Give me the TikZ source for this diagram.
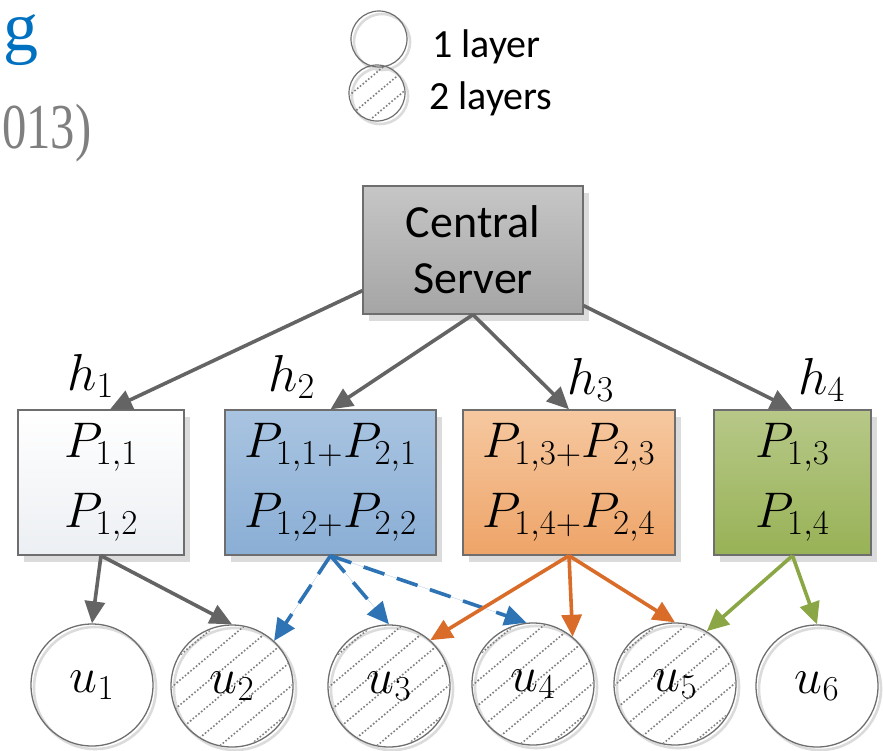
\RequirePackage{fix-cm}
\documentclass[tikz,border=0pt]{standalone}
\usepackage{fontspec}
\setsansfont{Carlito}
\newfontfamily\titlefont{Liberation Serif}
\usetikzlibrary{arrows.meta,calc,backgrounds,shadows}

\definecolor{linegray}{HTML}{646464}
\definecolor{framegray}{HTML}{6E6E6E}
\definecolor{linkblue}{HTML}{2E74B5}
\definecolor{linkorange}{HTML}{DA6C2A}
\definecolor{linkgreen}{HTML}{8BA644}
\definecolor{titleblue}{HTML}{0070C0}
\definecolor{titlegray}{HTML}{7F7F7F}
\definecolor{srvtop}{HTML}{C6C6C6}
\definecolor{srvbot}{HTML}{A5A5A5}
\definecolor{whitebot}{HTML}{ECEFF3}
\definecolor{bluetop}{HTML}{A9C4E1}
\definecolor{bluebot}{HTML}{8AAED5}
\definecolor{orangetop}{HTML}{F6C8A0}
\definecolor{orangebot}{HTML}{EEA468}
\definecolor{greentop}{HTML}{B7C888}
\definecolor{greenbot}{HTML}{98B256}

% dotted diagonal hatching inside a circular node: name, radius, spacing, count
\newcommand\hatchdisc[4]{%
  \begin{scope}
    \clip (#1.center) circle[radius=#2pt];
    \foreach \k in {-#4,...,#4}{
      \draw[hatchline]
        ($(#1.center)+({\k*#3*0.643-1.5*#2*0.766},{\k*#3*0.766+1.5*#2*0.643})$) --
        ($(#1.center)+({\k*#3*0.643+1.5*#2*0.766},{\k*#3*0.766-1.5*#2*0.643})$);
    }
  \end{scope}}

% soft ring below a circular node
\newcommand\ringshadow[2]{%
  \draw[black!14, line width=2.6pt] ([shift={(3pt,-3pt)}]#1.center) circle[radius=#2pt];}

\begin{document}
\begin{tikzpicture}[x=1pt,y=-1pt,
  hatchline/.style={draw=black!50, line width=2.3pt, line cap=round,
    dash pattern=on 0pt off 3.6pt},
  box/.style={draw=framegray, line width=1.3pt, inner sep=0pt,
    minimum height=145pt, align=center,
    font=\fontsize{50}{70}\selectfont,
    drop shadow={shadow xshift=6pt, shadow yshift=-7pt, fill=black!14, opacity=1}},
  user/.style={circle, draw=framegray, line width=1.3pt, inner sep=0pt,
    minimum size=122pt, font=\fontsize{50}{60}\selectfont},
  legendcirc/.style={circle, draw=framegray, line width=1.2pt, inner sep=0pt,
    minimum size=56pt},
  hlabel/.style={anchor=base west, inner sep=0pt, font=\fontsize{52}{60}\selectfont},
  legendtext/.style={anchor=base west, inner sep=0pt,
    font=\sffamily\fontsize{40}{48}\selectfont},
  tip/.style={-{Triangle[length=22pt,width=20pt]}},
  grayarrow/.style={tip, draw=linegray, fill=linegray, line width=3.6pt},
  bluearrow/.style={tip, draw=linkblue, fill=linkblue, line width=3.6pt,
    dash pattern=on 22pt off 13pt},
  orangearrow/.style={tip, draw=linkorange, fill=linkorange, line width=3.6pt},
  greenarrow/.style={tip, draw=linkgreen, fill=linkgreen, line width=3.6pt}
]
\useasboundingbox (0,0) rectangle (883,750);

% pieces of the heading at the left margin
\node[anchor=base west, inner sep=0pt, text=titleblue,
  font=\titlefont\fontsize{70}{80}\selectfont] (ttl) at (3,50) {g};
\node[anchor=base west, inner sep=0pt, text=titlegray,
  font=\titlefont\fontsize{64}{70}\selectfont] (yr) at (2,148) {\scalebox{0.76}[1]{013)}};

% legend
\node[legendcirc] (lg1) at (379,39) {};
\node[legendcirc] (lg2) at (377,93) {};
\node[legendtext] (lt1) at (432,57) {1 layer};
\node[legendtext] (lt2) at (429,109) {2 layers};

% central server
\node[box, minimum width=220pt, minimum height=128pt,
  top color=srvtop, bottom color=srvbot,
  font=\sffamily\fontsize{46}{56}\selectfont] (srv) at (473,250) {Central\\Server};

% helper boxes
\node[box, minimum width=166pt, top color=white, bottom color=whitebot]
  (b1) at (101,482.5) {$P_{1,1}$\\$P_{1,2}$};
\node[box, minimum width=211pt, top color=bluetop, bottom color=bluebot]
  (b2) at (330.5,482.5) {$P_{1,1+}P_{2,1}$\\$P_{1,2+}P_{2,2}$};
\node[box, minimum width=212pt, top color=orangetop, bottom color=orangebot]
  (b3) at (569,482.5) {$P_{1,3+}P_{2,3}$\\$P_{1,4+}P_{2,4}$};
\node[box, minimum width=157pt, top color=greentop, bottom color=greenbot]
  (b4) at (792.5,482.5) {$P_{1,3}$\\$P_{1,4}$};

% helper labels
\node[hlabel] (h1) at (67,390) {$h_1$};
\node[hlabel] (h2) at (268,391) {$h_2$};
\node[hlabel] (h3) at (567,394) {$h_3$};
\node[hlabel] (h4) at (798,394) {$h_4$};

% users
\node[user] (u1) at (92,685) {$u_1$};
\node[user] (u2) at (232,686) {$u_2$};
\node[user] (u3) at (389,686) {$u_3$};
\node[user] (u4) at (533,684) {$u_4$};
\node[user] (u5) at (675,684) {$u_5$};
\node[user] (u6) at (817,686) {$u_6$};

% shadows and hatching go underneath
\begin{scope}[on background layer]
  \ringshadow{lg1}{28}
  \ringshadow{lg2}{28}
  \hatchdisc{lg2}{27}{16}{2}
  \foreach \u in {u1,u2,u3,u4,u5,u6}{\ringshadow{\u}{61}}
  \foreach \u in {u2,u3,u4,u5}{\hatchdisc{\u}{60}{19}{4}}
\end{scope}

% server to helpers
\draw[grayarrow] ([yshift=24pt]srv.south west) -- ([xshift=9pt]b1.north);
\draw[grayarrow] (srv.south) -- (b2.north);
\draw[grayarrow] (srv.south) -- (b3.north);
\draw[grayarrow] ([yshift=9pt]srv.south east) -- (b4.north);

% helpers to users
\draw[grayarrow] (b1.south) -- (u1.north);
\draw[grayarrow] (b1.south) -- (u2.north);
\draw[bluearrow] (b2.south) -- (u2.47);
\draw[bluearrow] (b2.south) -- (u3.north);
\draw[bluearrow] (b2.south) -- (u4.96);
\draw[orangearrow] (b3.south) -- (u3.48);
\draw[orangearrow] (b3.south) -- (u4.50);
\draw[orangearrow] (b3.south) -- (u5.north);
\draw[greenarrow] (b4.south) -- (u5.59);
\draw[greenarrow] (b4.south) -- (u6.north);
\end{tikzpicture}
\end{document}
